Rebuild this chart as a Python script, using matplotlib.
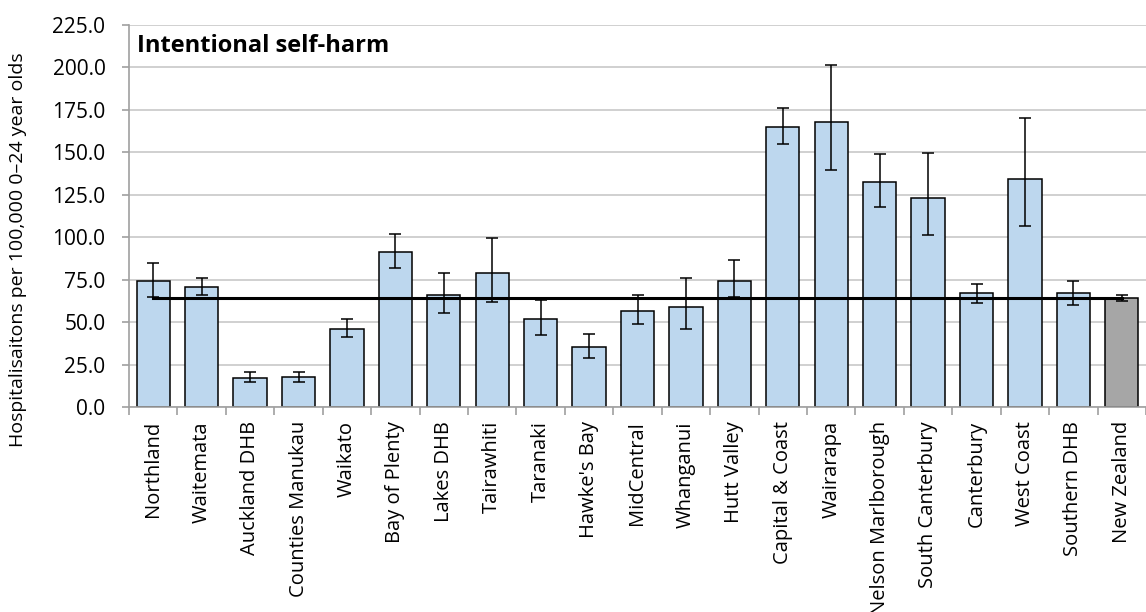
import matplotlib.pyplot as plt
from matplotlib.ticker import FormatStrFormatter

plt.rcParams['font.family'] = ['Open Sans', 'DejaVu Sans']

# DHB areas
areas = ["Northland", "Waitemata", "Auckland DHB", "Counties Manukau", "Waikato",
         "Bay of Plenty", "Lakes DHB", "Tairawhiti", "Taranaki", "Hawke's Bay",
         "MidCentral", "Whanganui", "Hutt Valley", "Capital & Coast", "Wairarapa",
         "Nelson Marlborough", "South Canterbury", "Canterbury", "West Coast",
         "Southern DHB", "New Zealand"]

# rate per 100,000 and 95% CI
rates = [74.5, 70.6, 17.1, 17.9, 46.2, 91.6, 66.0, 79.0, 51.7, 35.7, 56.4,
         59.3, 74.5, 164.9, 167.8, 132.8, 123.4, 67.0, 134.6, 67.0, 64.2]
ci_upper = [84.7, 76.2, 20.6, 20.6, 51.7, 101.8, 79.2, 99.8, 63.1, 43.2, 66.0,
            76.2, 86.7, 176.3, 201.4, 148.8, 149.8, 72.5, 170.3, 74.5, 65.8]
ci_lower = [64.8, 66.0, 15.1, 15.1, 41.5, 82.0, 55.6, 62.1, 42.4, 29.3, 49.1,
            46.2, 65.2, 154.7, 139.5, 117.7, 101.6, 61.3, 106.6, 60.1, 62.3]

nz_rate = 64.3

x = list(range(len(areas)))
colors = ["#BDD7EE"] * (len(areas) - 1) + ["#A6A6A6"]
err = [[r - lo for r, lo in zip(rates, ci_lower)],
       [hi - r for r, hi in zip(rates, ci_upper)]]

fig = plt.figure(figsize=(11.46, 6.12), dpi=100)
ax = fig.add_axes([129 / 1146, 1 - 407.3 / 612, (1146 - 129) / 1146, (407.3 - 25) / 612])

ax.bar(x, rates, width=0.69, color=colors, edgecolor="black", linewidth=1.1, zorder=2)
ax.errorbar(x, rates, yerr=err, fmt="none", ecolor="black", elinewidth=1.1,
            capsize=4, capthick=1.1, zorder=3)
ax.plot([0, len(areas) - 1], [nz_rate, nz_rate], color="black", linewidth=2.2, zorder=4)

ax.set_ylim(0, 225)
ax.set_xlim(-0.5, 20.255)
ax.set_yticks([i * 25 for i in range(10)])
ax.yaxis.set_major_formatter(FormatStrFormatter("%.1f"))
ax.yaxis.grid(True, color="#C8C8C8", linewidth=1.2, zorder=0)
ax.set_axisbelow(True)

ax.set_xticks(x)
ax.set_xticklabels(areas, rotation=90, fontsize=14.5)
ax.set_xticks([i - 0.5 for i in range(len(areas) + 1)], minor=True)
ax.tick_params(axis="x", which="major", length=0, pad=10)
ax.tick_params(axis="x", which="minor", length=6, color="#A0A0A0", width=1.2)
ax.tick_params(axis="y", length=5, color="#A0A0A0", width=1.2, labelsize=15, pad=12)

for side in ["top", "right"]:
    ax.spines[side].set_visible(False)
for side in ["left", "bottom"]:
    ax.spines[side].set_color("#A0A0A0")
    ax.spines[side].set_linewidth(1.2)

ax.text(137 / 1146, 1 - 46 / 612, "Intentional self-harm", transform=fig.transFigure,
        fontsize=17, fontweight="bold", va="center", ha="left")

fig.text(18 / 1146, 1 - 250 / 612, "Hospitalisaitons per 100,000 0\u201324 year olds",
         rotation=90, fontsize=14, va="center", ha="center")

fig.savefig("out.png", dpi=100)
